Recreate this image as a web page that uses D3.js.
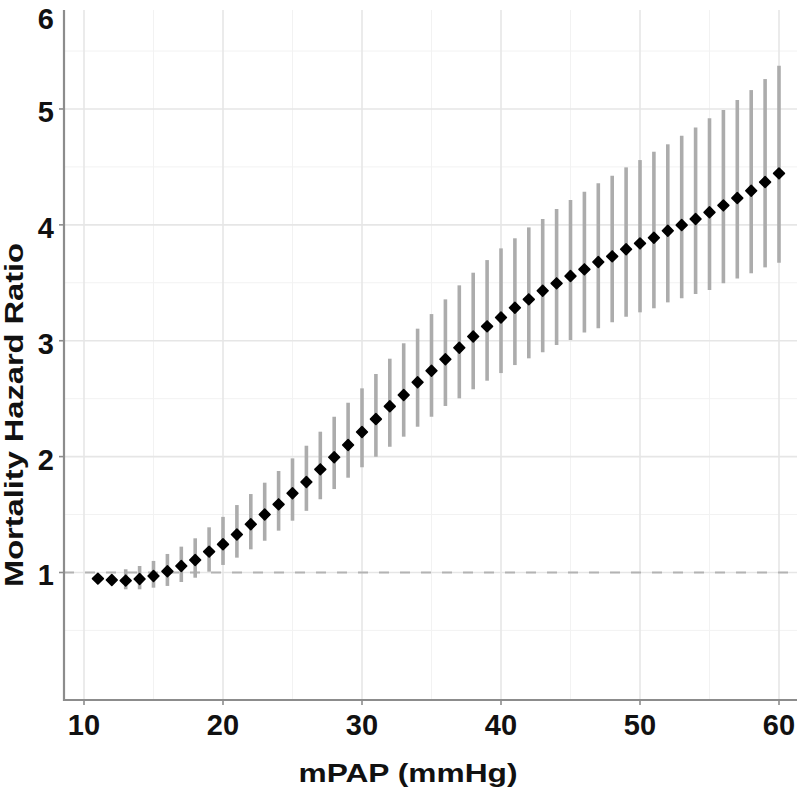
<!DOCTYPE html>
<html>
<head>
<meta charset="utf-8">
<script src="https://cdn.jsdelivr.net/npm/d3@7"></script>
<style>
  html, body { margin: 0; padding: 0; background: #fff; }
  svg { display: block; }
  text { font-family: "Liberation Sans", Arial, sans-serif; font-weight: bold; fill: #111; }
</style>
</head>
<body>
<svg id="chart" width="800" height="790"></svg>
<script>
// mPAP values (mmHg)
const mpap = [11,12,13,14,15,16,17,18,19,20,21,22,23,24,25,26,27,28,29,30,
              31,32,33,34,35,36,37,38,39,40,41,42,43,44,45,46,47,48,49,50,
              51,52,53,54,55,56,57,58,59,60];
// Hazard ratio point estimates
const hr = [0.947,0.935,0.930,0.944,0.970,1.010,1.056,1.108,1.180,1.243,
            1.328,1.416,1.500,1.588,1.684,1.781,1.890,1.994,2.100,2.212,
            2.324,2.434,2.532,2.642,2.741,2.840,2.939,3.036,3.124,3.200,
            3.285,3.357,3.431,3.495,3.558,3.616,3.679,3.728,3.789,3.840,
            3.889,3.949,3.998,4.050,4.108,4.168,4.231,4.294,4.369,4.444];
// Lower 95% CI
const lower = [0.905,0.900,0.855,0.855,0.869,0.884,0.918,0.955,1.007,1.065,
               1.128,1.200,1.274,1.361,1.447,1.532,1.632,1.720,1.818,1.908,
               1.999,2.085,2.172,2.258,2.344,2.437,2.503,2.581,2.655,2.721,
               2.790,2.848,2.900,2.963,3.006,3.072,3.107,3.159,3.207,3.245,
               3.280,3.331,3.366,3.403,3.437,3.495,3.538,3.582,3.633,3.673];
// Upper 95% CI
const upper = [0.985,0.975,1.028,1.056,1.100,1.160,1.223,1.295,1.390,1.480,
               1.582,1.677,1.775,1.876,1.985,2.094,2.215,2.344,2.465,2.589,
               2.713,2.845,2.978,3.104,3.230,3.357,3.478,3.587,3.696,3.797,
               3.884,3.978,4.050,4.136,4.214,4.286,4.358,4.424,4.496,4.559,
               4.631,4.695,4.768,4.841,4.919,4.991,5.077,5.163,5.258,5.373];

const xTicks = [10,20,30,40,50,60];
const xMinor = [15,25,35,45,55];
const yTicks = [1,2,3,4,5,6];
const yMinor = [0.5,1.5,2.5,3.5,4.5,5.5];
const refLine = 1;
const xTitle = "mPAP (mmHg)";
const yTitle = "Mortality Hazard Ratio";

(function () {
const data = mpap.map((m, i) => ({ x: m, y: hr[i], lo: lower[i], hi: upper[i] }));

const svg = d3.select("#chart");
const pL = 64, pR = 797, pT = 10, pB = 700;

const x = d3.scaleLinear().domain([8.561, 61.295]).range([pL, pR]);
const y = d3.scaleLinear().domain([-0.1003, 5.854]).range([pB, pT]);

const yIn = v => y(v) >= pT && y(v) <= pB;

// minor grid
svg.append("g").selectAll("line").data(xMinor).join("line")
  .attr("x1", d => x(d)).attr("x2", d => x(d)).attr("y1", pT).attr("y2", pB)
  .attr("stroke", "#f2f2f2").attr("stroke-width", 1);
svg.append("g").selectAll("line").data(yMinor.filter(yIn)).join("line")
  .attr("x1", pL).attr("x2", pR).attr("y1", d => y(d)).attr("y2", d => y(d))
  .attr("stroke", "#f2f2f2").attr("stroke-width", 1);
// major grid
svg.append("g").selectAll("line").data(xTicks).join("line")
  .attr("x1", d => x(d)).attr("x2", d => x(d)).attr("y1", pT).attr("y2", pB)
  .attr("stroke", "#e6e6e6").attr("stroke-width", 1.6);
svg.append("g").selectAll("line").data(yTicks.filter(yIn)).join("line")
  .attr("x1", pL).attr("x2", pR).attr("y1", d => y(d)).attr("y2", d => y(d))
  .attr("stroke", "#e6e6e6").attr("stroke-width", 1.6);

// reference dashed line
svg.append("line")
  .attr("x1", pL).attr("x2", pR).attr("y1", y(refLine)).attr("y2", y(refLine))
  .attr("stroke", "#b3b3b3").attr("stroke-width", 2.2).attr("stroke-dasharray", "10,11");

// error bars
svg.append("g").selectAll("line").data(data).join("line")
  .attr("x1", d => x(d.x)).attr("x2", d => x(d.x))
  .attr("y1", d => y(d.lo)).attr("y2", d => y(d.hi))
  .attr("stroke", "#acacac").attr("stroke-width", 3.6);

// points (diamonds)
const r = 5.4;
svg.append("g").selectAll("path").data(data).join("path")
  .attr("d", d => {
    const cx = x(d.x), cy = y(d.y);
    return `M${cx},${cy - r}L${cx + r},${cy}L${cx},${cy + r}L${cx - r},${cy}Z`;
  })
  .attr("fill", "#000").attr("stroke", "#000").attr("stroke-width", 1.6)
  .attr("stroke-linejoin", "round");

// axes lines
svg.append("line").attr("x1", pL).attr("x2", pL).attr("y1", pT).attr("y2", pB + 1)
  .attr("stroke", "#8c8c8c").attr("stroke-width", 2.2);
svg.append("line").attr("x1", pL - 1).attr("x2", pR).attr("y1", pB).attr("y2", pB)
  .attr("stroke", "#8c8c8c").attr("stroke-width", 2.2);

// x ticks & labels
const gx = svg.append("g");
gx.selectAll("line").data(xTicks).join("line")
  .attr("x1", d => x(d)).attr("x2", d => x(d)).attr("y1", pB).attr("y2", pB + 5)
  .attr("stroke", "#8c8c8c").attr("stroke-width", 1.6);
gx.selectAll("text").data(xTicks).join("text")
  .attr("x", d => x(d)).attr("y", 735).attr("text-anchor", "middle")
  .attr("font-size", 29).text(d => d);

// y ticks & labels
const gy = svg.append("g");
gy.selectAll("line").data(yTicks.filter(yIn)).join("line")
  .attr("x1", pL - 5).attr("x2", pL).attr("y1", d => y(d)).attr("y2", d => y(d))
  .attr("stroke", "#8c8c8c").attr("stroke-width", 1.6);
gy.selectAll("text").data(yTicks).join("text")
  .attr("x", 54).attr("y", d => Math.max(y(d), pT + 6) + 13)
  .attr("text-anchor", "end").attr("font-size", 29).text(d => d);

// titles
svg.append("text").attr("x", 408).attr("y", 782).attr("text-anchor", "middle")
  .attr("font-size", 25).attr("textLength", 219).attr("lengthAdjust", "spacingAndGlyphs")
  .text(xTitle);
svg.append("text").attr("transform", "translate(22.5,415) rotate(-90)")
  .attr("text-anchor", "middle").attr("font-size", 25)
  .attr("textLength", 344).attr("lengthAdjust", "spacingAndGlyphs")
  .text(yTitle);
})();
</script>
</body>
</html>
